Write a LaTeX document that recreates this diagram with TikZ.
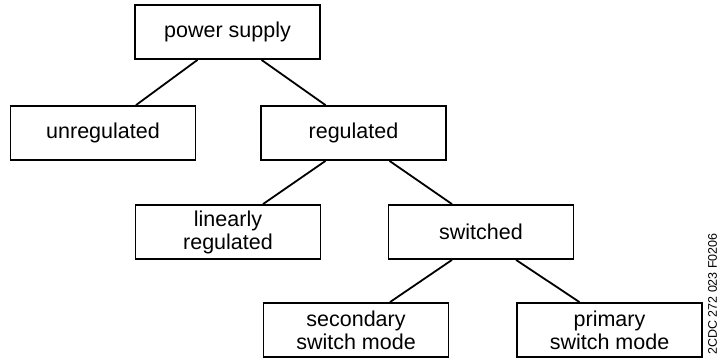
\documentclass[tikz,border=0pt]{standalone}
\usepackage{fontspec}
\setmainfont{Liberation Sans}
\begin{document}
\begin{tikzpicture}[x=1pt, y=-1pt, line width=1.8pt,
    box/.style={draw, line width=1.8pt, minimum width=185pt, minimum height=54pt, align=center, inner sep=0pt, font=\fontsize{21.5}{23}\selectfont}]
            \useasboundingbox (0,0) rectangle (721,359);
            \node[box] (1) at (227.5, 32) {power supply};
            \node[box] (2) at (103, 133) {unregulated};
            \node[box] (3) at (353.5, 133) {regulated};
            \node[box] (4) at (228, 232) {linearly\\regulated};
            \node[box] (5) at (481, 232) {switched};
            \node[box] (6) at (356, 330) {secondary\\switch mode};
            \node[box] (7) at (609.5, 330) {primary\\switch mode};
            \node[rotate=90, inner sep=0pt, font=\fontsize{12.5}{13}\selectfont] (code) at (712.5, 294) {2CDC 272 023 F0206};
            \draw ([xshift=-30pt]1.south) -- ([xshift=33pt]2.north);
            \draw ([xshift=34pt]1.south) -- ([xshift=-28pt]3.north);
            \draw ([xshift=-28pt]3.south) -- ([xshift=35pt]4.north);
            \draw ([xshift=36pt]3.south) -- ([xshift=-29pt]5.north);
            \draw ([xshift=-29pt]5.south) -- ([xshift=34pt]6.north);
            \draw ([xshift=35pt]5.south) -- ([xshift=-30pt]7.north);
        \end{tikzpicture}
\end{document}
